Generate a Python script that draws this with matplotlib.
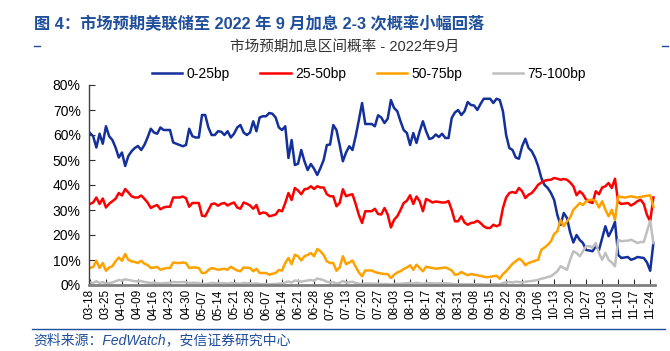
import matplotlib.pyplot as plt
import numpy as np

plt.rcParams['font.family'] = ['Liberation Sans', 'Noto Sans CJK SC']

# daily probabilities (%) for the Sep-2022 cumulative hike range, from 03-18
bp_0_25 = [
    60.8, 59.5, 55, 60.5, 56.5, 63.5, 59.5, 58, 55, 51,
    53, 47.6, 51.6, 53.5, 54.8, 55.6, 54, 56, 59, 62.5,
    61, 60.5, 63, 62, 62, 62, 57, 56.5, 56, 55.5,
    56, 62.5, 59.5, 59, 59, 68, 68, 63, 60,
    60, 61.5, 61.3, 60, 61.5, 59, 60.5, 63, 64, 61,
    60, 61, 65.5, 61.5, 67, 67.5, 67.5, 68.8, 68.5, 67,
    63, 62, 63.5, 50.8, 58, 48, 48.5, 54, 49.5, 46,
    48.4, 46.5, 44, 46.8, 50, 56, 56.2, 64, 62, 56,
    49.5, 53, 55.5, 54, 59.5, 66, 72.8, 64.4, 64.4, 64.4,
    63.5, 67.9, 67, 64.8, 66.5, 74, 70.8, 69.5, 65.5, 62,
    60.8, 56, 60.8, 56.8, 61.5, 65.5, 61.5, 58.4, 58.8, 60.2,
    59.2, 60.5, 58.8, 58.8, 66.8, 69, 70, 68, 69.5, 73.2,
    72, 71.8, 70, 72.4, 74.5, 74.5, 74.5, 72.8, 74.5,
    74, 69.5, 60, 54.8, 54, 51, 50.5, 55.5, 58.5, 54.8,
    53.5, 51, 47.5, 42.8, 40, 38.8, 36.8, 34, 28, 24,
    28.8, 26.8, 21, 17, 20, 18, 16.8, 14, 13.8, 13.5,
    15.5, 14, 18.8, 23.5, 19.5, 22, 25.2, 12, 10.8, 11,
    11.2, 10.1, 10.5, 11.2, 11, 10.8, 9, 5.7, 16.8,
]
bp_25_50 = [
    32.4, 33, 35, 32.4, 34.6, 31, 32.5, 33.5, 34.5, 36.8,
    35.8, 38.4, 37, 35.5, 35, 35, 35.8, 34.5, 33, 30.8,
    31.5, 32, 30.3, 31, 31.3, 31.3, 35, 35, 35, 35.4,
    34.7, 31.3, 32.8, 32.8, 32.8, 27.7, 27.5, 30, 32.4,
    32.6, 31.7, 32.5, 32.8, 31.8, 32.5, 33, 31, 30.5, 33,
    32.5, 31.8, 30.5, 32, 28.4, 29, 28.8, 27.5, 27.8, 28.2,
    30, 29.5, 32.8, 36.8, 34, 38.8, 37.8, 36.3, 38.3, 38.5,
    39.5, 38.4, 39.5, 39, 39, 36.3, 35.5, 35.5, 31.5, 32.8,
    38.3, 35.5, 36, 36.3, 32.4, 28, 24.8, 29.5, 29.5, 29.5,
    30.5, 28.4, 28.2, 30.8, 28.2, 23, 26.1, 27.5, 30, 32.8,
    33.7, 35.9, 32.4, 35.4, 33.5, 29.5, 34.4, 33.8, 33, 33.4,
    33.2, 33, 33, 33.6, 30, 25.5, 25.5, 27.5, 25, 24.1,
    24.8, 25, 25.7, 24.8, 23.5, 22.8, 22.8, 24.1, 23.5,
    24.1, 30.8, 35, 36.8, 37.2, 36.8, 38.8, 37.5, 34.8, 36.1,
    36.8, 38.3, 40.1, 41, 41.7, 42, 42.1, 42.8, 42.5, 42.1,
    42.4, 42.1, 41, 39.5, 35.9, 37.5, 36.3, 34.1, 33.2, 32.8,
    37.5, 36.3, 39, 39.5, 40.8, 38.8, 42.5, 33.2, 32.4, 32.6,
    32.8, 31.8, 32.5, 33.5, 34.1, 32.4, 28, 25.5, 35,
]
bp_50_75 = [
    6.8, 7.2, 9.7, 6.8, 8.8, 5.7, 7, 7.5, 9.5, 11,
    9.7, 12.4, 10, 9.5, 9.2, 8.8, 9.7, 8.5, 8, 6.8,
    7, 7.2, 6.1, 6.5, 6.8, 6.8, 9, 8.8, 8.8, 9,
    8.8, 6.8, 7, 7, 6.8, 4.8, 4.8, 6, 6.8,
    6.5, 6.1, 6.3, 6.5, 6.1, 7.3, 6.5, 5.8, 5.5, 7,
    6.9, 6.8, 5.5, 6.5, 4.8, 4.8, 4.8, 4.1, 4.5, 4.8,
    6, 5.8, 8.8, 10.8, 8.3, 12.1, 11.5, 9.8, 11.5, 12,
    12.8, 11.5, 14.4, 13.5, 12, 9.5, 8.8, 8.8, 5.7, 7,
    11.5, 8.3, 9, 9.8, 7.3, 5, 3.5, 5.8, 5.8, 5.8,
    5.2, 4.8, 4.6, 4.4, 4.4, 2.8, 4.1, 5, 5.5, 6.4,
    7, 7.9, 6.1, 8.1, 6.8, 5.5, 7.3, 7, 6.8, 6.5,
    6.7, 6.8, 7, 6.5, 5.8, 4.1, 4.3, 5.2, 4.5, 3.9,
    4.4, 4.1, 3.9, 3.7, 3.3, 3.1, 3.3, 3.5, 3.7,
    2.5, 4.4, 5.5, 7, 8.5, 9.5, 10.5, 9.7, 7.9, 8.8,
    9.2, 9.7, 10.1, 14.1, 15, 16.1, 17.5, 20.4, 21.5, 26.1,
    23.5, 25.5, 27, 30.1, 31.4, 32.8, 32, 33.5, 34, 34.1,
    33.5, 31, 33.5, 30.1, 27.5, 30.1, 26.1, 35.5, 35.2, 35,
    35.2, 35.5, 35.2, 35, 35.2, 35.5, 35.7, 35.9, 31.4,
]
bp_75_100 = [
    1.0, 0.8, 1.5, 0.8, 1.2, 0.5, 0.8, 1.0, 1.5, 2.0,
    1.8, 2.3, 2.0, 1.8, 1.5, 1.5, 1.6, 1.2, 1.0, 0.8,
    0.9, 0.8, 0.6, 0.7, 0.8, 0.8, 1.2, 1.1, 1.1, 1.2,
    1.1, 0.8, 0.9, 0.9, 0.8, 0.4, 0.4, 0.6, 0.8,
    0.7, 0.6, 0.7, 0.7, 0.6, 0.8, 0.7, 0.6, 0.5, 0.8,
    0.7, 0.7, 0.5, 0.7, 0.4, 0.4, 0.4, 0.3, 0.4, 0.4,
    0.6, 0.6, 1.0, 1.4, 1.0, 1.8, 1.6, 1.3, 1.6, 1.8,
    2.0, 1.7, 2.6, 2.3, 1.9, 1.3, 1.1, 1.1, 0.6, 0.8,
    1.6, 1.0, 1.1, 1.3, 0.8, 0.5, 0.3, 0.6, 0.6, 0.6,
    0.5, 0.5, 0.4, 0.4, 0.4, 0.2, 0.4, 0.5, 0.5, 0.6,
    0.7, 0.8, 0.6, 0.9, 0.7, 0.5, 0.8, 0.7, 0.7, 0.6,
    0.7, 0.7, 0.7, 0.6, 0.5, 0.3, 0.3, 0.4, 0.3, 0.3,
    0.3, 0.3, 0.3, 0.3, 0.2, 0.2, 0.2, 0.3, 0.3,
    0.2, 0.8, 1.0, 1.2, 1.0, 1.3, 1.2, 1.0, 1.3, 1.5,
    1.6, 1.8, 2.1, 2.5, 2.8, 3.2, 3.5, 4.5, 5.5, 7.5,
    6.8, 6.1, 10.1, 13.5, 12.8, 11.5, 13.5, 15.5, 15.5, 15,
    16.8, 12.8, 10.1, 12.8, 10.1, 9, 7.5, 18.1, 17.5, 17.7,
    17.7, 18.1, 17.5, 16.8, 17.2, 17.2, 21.5, 25.7, 16.8,
]
tick_labels = [
    "03-18", "03-25", "04-01", "04-09", "04-16", "04-23", "04-30", "05-07",
    "05-14", "05-21", "05-28", "06-07", "06-14", "06-21", "06-28", "07-06",
    "07-13", "07-20", "07-27", "08-03", "08-10", "08-17", "08-24", "08-31",
    "09-08", "09-15", "09-22", "09-29", "10-06", "10-13", "10-20", "10-27",
    "11-03", "11-10", "11-17", "11-24",
]

blue_txt = '#1f4e9b'

fig = plt.figure(figsize=(6.7, 3.51), dpi=100)
ax = fig.add_axes([89 / 670, 1 - 285 / 351, 566 / 670, 200 / 351])

x = np.arange(len(bp_0_25))
ax.plot(x, bp_0_25, color='#14309a', lw=1.8, label='0-25bp')
ax.plot(x, bp_25_50, color='#ff0000', lw=1.8, label='25-50bp')
ax.plot(x, bp_50_75, color='#ffa200', lw=1.8, label='50-75bp')
ax.plot(x, bp_75_100, color='#bfbfbf', lw=1.8, label='75-100bp')

ax.set_xlim(-0.3, len(x) - 0.5)
ax.set_ylim(0, 80)
ax.set_yticks(np.arange(0, 81, 10))
ax.set_yticklabels([f"{v}%" for v in range(0, 81, 10)], fontsize=10)
ax.set_xticks(np.arange(0, len(x), 5))
ax.set_xticklabels(tick_labels, rotation=90, fontsize=8.5)
ax.tick_params(axis='both', direction='in', length=4, color='#303030', pad=3)
ax.tick_params(axis='y', pad=6)

for s in ['top', 'right']:
    ax.spines[s].set_visible(False)
ax.spines['left'].set_color('#404040')
ax.spines['left'].set_linewidth(1.0)
ax.spines['bottom'].set_color('#808080')
ax.spines['bottom'].set_linewidth(2.0)

fig.legend(loc='center', bbox_to_anchor=(369 / 670, 1 - 74 / 351), ncol=4,
           frameon=False, fontsize=10, handlelength=2.2, handletextpad=0.3,
           columnspacing=2.2)

fig.text(34 / 670, 1 - 24 / 351, "图 4：市场预期美联储至 2022 年 9 月加息 2-3 次概率小幅回落",
         fontsize=11.7, fontweight='bold', color=blue_txt, va='center', ha='left')
fig.text(345 / 670, 1 - 47 / 351, "市场预期加息区间概率 - 2022年9月",
         fontsize=10.5, color='#333333', va='center', ha='center')
fig.text(33 / 670, 1 - 340 / 351, "资料来源：FedWatch，安信证券研究中心",
         fontsize=10, style='italic', color=blue_txt, va='center', ha='left')

fig.add_artist(plt.Line2D([32 / 670, 665 / 670], [1 - 329 / 351, 1 - 329 / 351],
                          color=blue_txt, lw=1.0))
fig.add_artist(plt.Line2D([34 / 670, 40 / 670], [1 - 46 / 351, 1 - 46 / 351],
                          color=blue_txt, lw=1.0))
fig.add_artist(plt.Line2D([662 / 670, 668 / 670], [1 - 46 / 351, 1 - 46 / 351],
                          color=blue_txt, lw=1.0))

fig.savefig('out.png', dpi=100)
